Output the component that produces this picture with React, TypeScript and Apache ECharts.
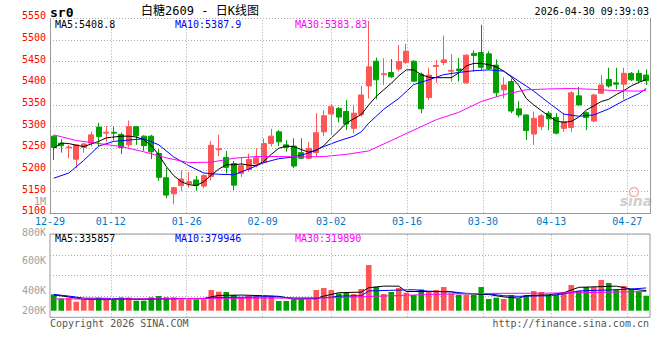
import React, { useEffect, useRef } from 'react';
import * as echarts from 'echarts';

const dates = [
  '12-29','12-30','12-31',
  '01-05','01-06','01-07','01-08','01-09',
  '01-12','01-13','01-14','01-15','01-16',
  '01-19','01-20','01-21','01-22','01-23',
  '01-26','01-27','01-28','01-29','01-30',
  '02-02','02-03','02-04','02-05','02-06',
  '02-09','02-10','02-11','02-12','02-13',
  '02-24','02-25','02-26','02-27',
  '03-02','03-03','03-04','03-05','03-06',
  '03-09','03-10','03-11','03-12','03-13',
  '03-16','03-17','03-18','03-19','03-20',
  '03-23','03-24','03-25','03-26','03-27',
  '03-30','03-31','04-01','04-02','04-03',
  '04-07','04-08','04-09','04-10',
  '04-13','04-14','04-15','04-16','04-17',
  '04-20','04-21','04-22','04-23','04-24',
  '04-27','04-28','04-29','04-30'
];

// [open, close, low, high]
const ohlc = [
  [5278,5252,5223,5280],[5262,5256,5240,5271],[5251,5253,5227,5258],[5225,5258,5204,5259],
  [5252,5260,5240,5263],[5262,5281,5254,5289],[5299,5277,5254,5309],[5285,5287,5265,5301],
  [5287,5285,5268,5301],[5282,5252,5237,5286],[5258,5300,5252,5314],[5300,5279,5258,5301],
  [5278,5256,5244,5280],[5278,5242,5225,5281],[5238,5183,5175,5248],[5182,5142,5135,5205],
  [5145,5159,5121,5161],[5164,5179,5151,5199],[5168,5173,5159,5195],[5177,5164,5152,5186],
  [5163,5187,5158,5190],[5185,5257,5176,5267],[5247,5249,5232,5281],[5229,5206,5192,5244],
  [5215,5165,5153,5221],[5192,5210,5184,5230],[5201,5224,5196,5238],[5214,5228,5206,5250],
  [5217,5261,5215,5273],[5261,5278,5254,5295],[5288,5265,5255,5292],[5258,5252,5242,5269],
  [5255,5209,5204,5273],[5240,5227,5225,5273],[5227,5250,5225,5265],[5240,5286,5231,5331],
  [5288,5325,5278,5338],[5329,5346,5281,5352],[5342,5322,5310,5345],[5335,5306,5292,5361],
  [5296,5331,5285,5350],[5328,5373,5323,5394],[5394,5438,5365,5544],[5451,5408,5363,5459],
  [5420,5422,5396,5458],[5425,5415,5412,5456],[5433,5450,5428,5488],[5448,5474,5445,5491],
  [5451,5405,5404,5453],[5421,5341,5331,5425],[5367,5419,5361,5436],[5439,5441,5401,5454],
  [5448,5454,5442,5510],[5428,5430,5404,5467],[5433,5429,5404,5458],[5401,5465,5399,5467],
  [5469,5464,5427,5476],[5471,5437,5431,5535],[5468,5434,5431,5474],[5442,5378,5369,5455],
  [5385,5396,5365,5414],[5404,5336,5331,5411],[5341,5327,5321,5359],[5327,5291,5269,5328],
  [5283,5319,5258,5335],[5300,5325,5292,5329],[5331,5318,5292,5336],[5321,5285,5282,5331],
  [5296,5311,5288,5332],[5298,5378,5288,5382],[5371,5350,5348,5392],[5332,5321,5292,5335],
  [5313,5373,5310,5376],[5377,5396,5377,5419],[5409,5394,5390,5436],[5401,5398,5386,5436],
  [5398,5423,5363,5436],[5423,5408,5405,5426],[5423,5406,5403,5431],[5419,5406,5396,5432]
];

// volume in thousands of lots
const volumesK = [
  272,205,217,150,188,205,217,188,188,222,222,167,167,222,245,222,222,188,188,188,
  188,345,317,312,262,217,250,250,250,250,162,162,188,188,188,345,378,345,288,300,
  278,362,762,400,278,312,378,300,262,355,328,345,395,288,262,262,262,395,195,217,
  195,262,205,262,328,312,262,262,312,428,328,395,395,512,462,355,412,362,317,250
];

const ma5 = [
  5250,5262,5261,5257,5254,5260,5266,5274,5276,5278,5278,5276,5270,5256,5235,5208,5187,5173,5166,5164,
  5173,5188,5202,5212,5212,5214,5211,5210,5220,5236,5250,5255,5254,5247,5241,5245,5256,5274,5290,5308,
  5318,5328,5350,5370,5385,5400,5417,5431,5431,5420,5414,5413,5413,5413,5424,5440,5446,5446,5443,5438,
  5428,5415,5395,5365,5350,5337,5325,5313,5310,5312,5322,5338,5348,5358,5363,5374,5383,5394,5402,5408.8
];
const ma10Pts = [
  [0,5181],[2,5193],[4,5222],[6,5255],[8,5266],[10,5269],[12,5272],[14,5258],[16,5230],[18,5210],
  [20,5193],[22,5190],[24,5189],[26,5202],[28,5217],[30,5226],[32,5230],[34,5239],[36,5254],[38,5267],
  [40,5278],[41,5288],[42,5308],[44,5340],[46,5365],[48,5397],[50,5408],[52,5420],[54,5425],[56,5429],
  [58,5431],[60,5428],[62,5405],[64,5382],[66,5355],[68,5329],[70,5324],[72,5327],[74,5341],[76,5360],
  [78,5376],[79,5387.9]
];
const ma30Pts = [
  [0,5281],[3,5268],[6,5261],[9,5254],[12,5242],[15,5228],[18,5217],[21,5218],[24,5227],[27,5231],
  [30,5231],[33,5230],[36,5231],[39,5236],[42,5244],[45,5268],[48,5292],[51,5316],[54,5333],[57,5358],
  [60,5374],[63,5385],[66,5387],[69,5388],[72,5386],[75,5383],[78,5382],[79,5383.83]
];
const vma5Pts = [
  [0,265],[2,230],[4,190],[7,185],[10,195],[12,195],[15,205],[18,205],[20,205],[22,255],[25,261],
  [28,250],[30,240],[32,195],[35,200],[36,244],[38,300],[41,310],[42,383],[44,410],[46,410],[47,320],
  [50,320],[53,317],[54,285],[58,270],[60,230],[62,210],[63,250],[66,265],[68,300],[70,390],[75,410],
  [77,360],[79,335.857]
];
const vma10Pts = [
  [0,272],[2,244],[4,210],[8,205],[11,190],[14,195],[18,200],[20,200],[22,222],[26,225],[28,233],
  [30,230],[32,210],[35,210],[37,225],[38,244],[41,250],[42,330],[46,344],[48,350],[50,325],[53,315],
  [55,290],[58,280],[60,250],[62,240],[63,244],[66,250],[68,280],[70,330],[75,350],[77,362],[79,379.946]
];
const vma30Pts = [
  [0,195],[10,195],[20,205],[30,210],[37,215],[40,228],[45,250],[50,270],[55,285],[60,290],[65,292],
  [70,300],[75,311],[79,319.89]
];

const dateTickIdx = [0, 8, 18, 28, 37, 47, 57, 66, 76];
const priceMin = 5100;
const priceMax = 5550;
const priceStep = 50;
const volAxisLabels = ['800K', '600K', '400K', '200K'];
const priceLegend = ['MA5:5408.8', 'MA10:5387.9', 'MA30:5383.83'];
const volLegend = ['MA5:335857', 'MA10:379946', 'MA30:319890'];
const titleText = '白糖2609 - 日K线图';
const codeText = 'sr0';
const timeText = '2026-04-30 09:39:03';

const UP = '#ff5555';
const DOWN = '#00a000';
const MONO = '"DejaVu Sans Mono", monospace';
const GRID_C = '#aaaaaa';
const BORDER_C = '#999999';

function fromPts(pts: number[][], scale = 1): (number | null)[] {
  const arr: (number | null)[] = new Array(dates.length).fill(null);
  pts.forEach(([i, v]) => { arr[i] = v * scale; });
  return arr;
}

export default function App() {
  const ref = useRef<HTMLDivElement>(null);
  useEffect(() => {
    if (!ref.current) return;
    const chart = echarts.init(ref.current, undefined, { renderer: 'svg' });

    const lineS = (data: any[], color: string, xi: number, yi: number) => ({
      type: 'line', xAxisIndex: xi, yAxisIndex: yi, data, connectNulls: true,
      symbol: 'none', silent: true, smooth: false,
      lineStyle: { width: 1, color }, z: 3,
    });
    const vLines = (xi: number, yi: number, y0: number) => ({
      type: 'line', xAxisIndex: xi, yAxisIndex: yi, data: [[0, y0]], symbol: 'none',
      lineStyle: { opacity: 0 }, silent: true,
      markLine: {
        silent: true, symbol: ['none', 'none'], label: { show: false },
        lineStyle: { color: GRID_C, type: [1, 2], width: 1 },
        data: dateTickIdx.slice(1).map((i) => ({ xAxis: i })),
      },
    });

    const legendX = [55, 175, 295];
    const legendC = ['#000000', '#0000ff', '#ff00ff'];
    const volLabelY = [232, 260.7, 290.5, 310];

    const graphic: any[] = [
      { type: 'text', x: 50, y: 12, style: { text: codeText, font: `bold 13px ${MONO}`, fill: '#000', textVerticalAlign: 'middle' } },
      { type: 'text', x: 200, y: 11, style: { text: titleText, font: '12px "DejaVu Sans Mono", "Noto Sans CJK SC"', fill: '#000', textAlign: 'center', textVerticalAlign: 'middle' } },
      { type: 'text', x: 649, y: 11.5, style: { text: timeText, font: `10px ${MONO}`, fill: '#000', textAlign: 'right', textVerticalAlign: 'middle' } },
      { type: 'text', x: 46, y: 201.3, style: { text: '1M', font: `10px ${MONO}`, fill: '#a0a0a0', textAlign: 'right', textVerticalAlign: 'middle' } },
      { type: 'text', x: 50, y: 323.7, style: { text: 'Copyright 2026 SINA.COM', font: `10px ${MONO}`, fill: '#555', textVerticalAlign: 'middle' } },
      { type: 'text', x: 649, y: 323.7, style: { text: 'http://finance.sina.com.cn', font: `10px ${MONO}`, fill: '#555', textAlign: 'right', textVerticalAlign: 'middle' } },
      { type: 'circle', shape: { cx: 634, cy: 192, r: 4.5 }, style: { fill: 'none', stroke: '#f3b0b0', lineWidth: 1.5 } },
      { type: 'text', x: 636, y: 201, style: { text: 'sina', font: 'italic bold 14px "DejaVu Sans", sans-serif', fill: '#cfcfcf', textAlign: 'center', textVerticalAlign: 'middle' } },
    ];
    priceLegend.forEach((t, k) => graphic.push({ type: 'text', x: legendX[k], y: 24, z: 10, style: { text: t, font: `10px ${MONO}`, fill: legendC[k], textVerticalAlign: 'middle' } }));
    volLegend.forEach((t, k) => graphic.push({ type: 'text', x: legendX[k], y: 238.4, z: 10, style: { text: t, font: `10px ${MONO}`, fill: legendC[k], textVerticalAlign: 'middle' } }));
    volAxisLabels.forEach((t, k) => graphic.push({ type: 'text', x: 46, y: volLabelY[k], style: { text: t, font: `10px ${MONO}`, fill: '#a0a0a0', textAlign: 'right', textVerticalAlign: 'middle' } }));

    chart.setOption({
      animation: false,
      backgroundColor: '#ffffff',
      grid: [
        { left: 50, top: 18.3, width: 600, height: 195, show: false },
        { left: 50, top: 234, width: 600, height: 83.3, show: true, borderColor: BORDER_C, borderWidth: 1 },
      ],
      xAxis: [
        { type: 'category', gridIndex: 0, data: dates, boundaryGap: true, position: 'bottom',
          axisLine: { show: true, lineStyle: { color: BORDER_C } }, axisTick: { show: false },
          axisLabel: { show: false }, splitLine: { show: false } },
        { type: 'value', gridIndex: 0, min: 0, max: dates.length - 1, interval: 1, position: 'bottom',
          axisLine: { show: false }, axisTick: { show: false }, splitLine: { show: false },
          axisLabel: { show: true, color: '#0078c8', fontSize: 10, fontFamily: MONO, margin: 3,
            formatter: (v: number) => (dateTickIdx.indexOf(v) >= 0 ? dates[v] : '') } },
        { type: 'category', gridIndex: 1, data: dates, boundaryGap: true, show: false },
        { type: 'value', gridIndex: 1, min: 0, max: dates.length - 1, show: false },
      ],
      yAxis: [
        { type: 'value', gridIndex: 0, min: priceMin, max: priceMax, interval: priceStep, position: 'left',
          axisLine: { show: true, lineStyle: { color: BORDER_C } }, axisTick: { show: false },
          axisLabel: { color: '#ff0000', fontSize: 10, fontFamily: MONO, margin: 4,
            verticalAlign: 'bottom', lineHeight: 5,
            formatter: (v: number) => String(v) },
          splitLine: { show: true, lineStyle: { color: GRID_C, type: [1, 2] } } },
        { type: 'value', gridIndex: 0, min: priceMin, max: priceMax, position: 'right',
          axisLine: { show: true, lineStyle: { color: BORDER_C } }, axisTick: { show: false },
          axisLabel: { show: false }, splitLine: { show: false } },
        { type: 'value', gridIndex: 1, min: 0, max: 4, interval: 1,
          axisLine: { show: false }, axisTick: { show: false }, axisLabel: { show: false },
          splitLine: { show: true, lineStyle: { color: GRID_C, type: [1, 2] } } },
        { type: 'value', gridIndex: 1, min: -110000, max: 1280000, show: false, splitLine: { show: false } },
      ],
      graphic,
      series: [
        vLines(1, 0, priceMin),
        {
          type: 'candlestick', xAxisIndex: 0, yAxisIndex: 0, data: ohlc, barWidth: 5.6, silent: true,
          itemStyle: { color: UP, color0: DOWN, borderColor: UP, borderColor0: DOWN, borderWidth: 1 },
        },
        lineS(ma5, '#000000', 0, 0),
        lineS(fromPts(ma10Pts), '#0000ff', 0, 0),
        lineS(fromPts(ma30Pts), '#ff00ff', 0, 0),
        vLines(3, 3, 0),
        {
          type: 'bar', xAxisIndex: 2, yAxisIndex: 3, barWidth: 5.6, silent: true,
          data: volumesK.map((v, i) => ({
            value: v * 1000,
            itemStyle: { color: ohlc[i][1] >= ohlc[i][0] ? UP : DOWN },
          })),
        },
        lineS(fromPts(vma5Pts, 1000), '#000000', 2, 3),
        lineS(fromPts(vma10Pts, 1000), '#0000ff', 2, 3),
        lineS(fromPts(vma30Pts, 1000), '#ff00ff', 2, 3),
      ],
    });
    return () => chart.dispose();
  }, []);
  return (
    <div
      ref={ref}
      style={{ position: 'absolute', left: 0, top: 0, width: 660, height: 360, background: '#fff' }}
    />
  );
}
